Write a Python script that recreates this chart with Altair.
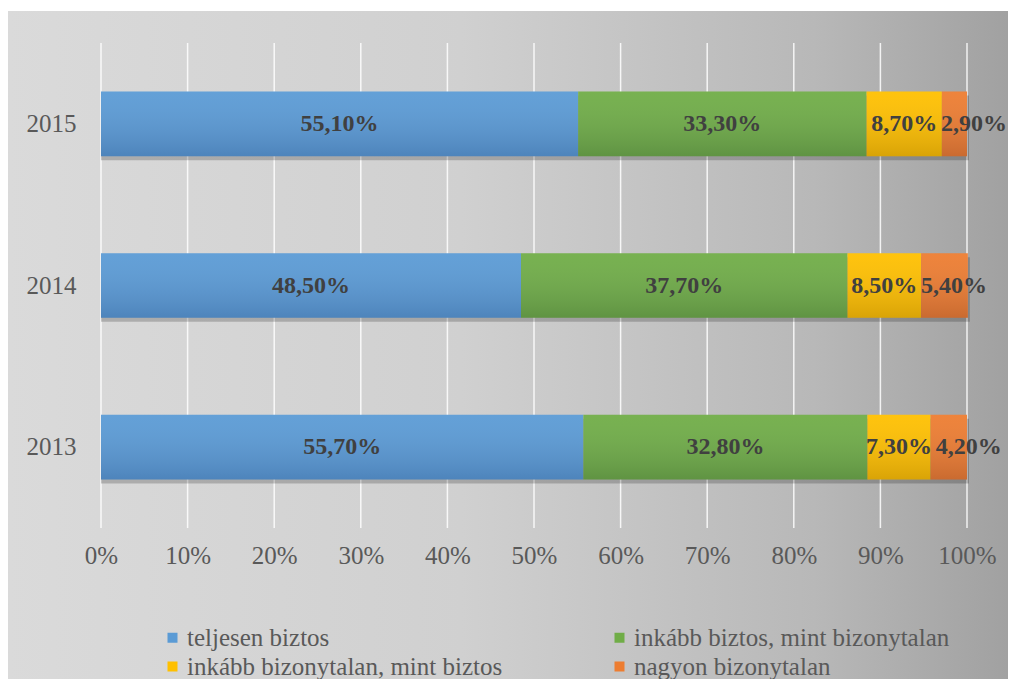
import altair as alt
import pandas as pd

years = ["2015", "2014", "2013"]
categories = ["teljesen biztos", "inkább biztos, mint bizonytalan",
              "inkább bizonytalan, mint biztos", "nagyon bizonytalan"]
values_2015 = [55.1, 33.3, 8.7, 2.9]
values_2014 = [48.5, 37.7, 8.5, 5.4]
values_2013 = [55.7, 32.8, 7.3, 4.2]
colors = ["#5b9bd5", "#70ad47", "#ffc000", "#ed7d31"]
grid_ticks = list(range(0, 101, 10))

W, H = 866, 485
FONT = "Liberation Serif"
LABEL_SPAN = 8.05  # minimum distance between label centres, in % units (avoids overlap)

rows = []
for y, vals in zip(years, [values_2015, values_2014, values_2013]):
    start = 0.0
    prev_pos = -100.0
    for i, (c, v) in enumerate(zip(categories, vals)):
        mid = start + v / 2
        pos = max(mid, prev_pos + LABEL_SPAN)
        rows.append({"year": y, "cat": c, "order": i, "value": v,
                     "start": start, "end": start + v, "pos": pos,
                     "label": f"{v:.2f}".replace(".", ",") + "%"})
        prev_pos = pos
        start += v
df = pd.DataFrame(rows)
totals = df.groupby("year", as_index=False)["end"].max()
grid_df = pd.DataFrame({"g": grid_ticks})

xscale = alt.Scale(domain=[0, 100], nice=False)
yscale = alt.Scale(domain=years, paddingInner=0.6, paddingOuter=0.3)

xaxis = alt.Axis(values=grid_ticks, labelExpr="datum.value + '%'",
                 labelFont=FONT, labelFontSize=25, labelColor="#595959",
                 ticks=False, domain=False, labelPadding=15, labelFlush=False,
                 labelOverlap=False, grid=False, zindex=1, title=None)
yaxis = alt.Axis(labelFont=FONT, labelFontSize=25, labelColor="#595959",
                 ticks=False, domain=False, labelPadding=25, grid=False, zindex=1,
                 title=None)

def X(field):
    return alt.X(field, scale=xscale, axis=xaxis, title=None)

def Y():
    return alt.Y("year:N", sort=years, scale=yscale, axis=yaxis, title=None)

bg = alt.Chart(pd.DataFrame({"a": [0]})).mark_rect(
    color={"gradient": "linear", "x1": 0, "y1": 0, "x2": 1, "y2": 0,
           "stops": [{"offset": 0, "color": "#dadada"},
                     {"offset": 0.45, "color": "#d0d0d0"},
                     {"offset": 0.8, "color": "#b8b8b8"},
                     {"offset": 1, "color": "#a0a0a0"}]}
).encode(x=alt.value(-93), x2=alt.value(915), y=alt.value(-32), y2=alt.value(644))

grid = alt.Chart(grid_df).mark_rule(color="#ffffff", strokeWidth=1.5, opacity=0.85).encode(
    x=X("g:Q"), y=alt.value(0), y2=alt.value(H))

shadow = alt.Chart(totals).mark_bar(color="#000000", opacity=0.2, yOffset=4, xOffset=2).encode(
    x=X("end:Q"), x2=alt.datum(0), y=Y())

bars = alt.Chart(df).mark_bar().encode(
    x=X("start:Q"),
    x2="end:Q",
    y=Y(),
    color=alt.Color("cat:N", sort=categories,
                    scale=alt.Scale(domain=categories, range=colors),
                    legend=alt.Legend(title=None, orient="none", legendX=59, legendY=582,
                                      columns=2, columnPadding=104, rowPadding=3,
                                      symbolType="square", symbolSize=100,
                                      symbolStrokeWidth=0, symbolOffset=0,
                                      labelFont=FONT, labelFontSize=25,
                                      labelColor="#595959", labelOffset=2,
                                      labelLimit=600, direction="horizontal")),
)

shade = alt.Chart(df).mark_bar(
    color={"gradient": "linear", "x1": 0, "y1": 0, "x2": 0, "y2": 1,
           "stops": [{"offset": 0, "color": "rgba(255,255,255,0.05)"},
                     {"offset": 1, "color": "rgba(0,0,40,0.15)"}]}
).encode(x=X("start:Q"), x2="end:Q", y=Y())

text = alt.Chart(df).mark_text(font=FONT, fontSize=24, fontWeight="bold",
                               color="#404040", baseline="middle", align="center").encode(
    x=X("pos:Q"), y=Y(), text="label:N")

chart = alt.layer(bg, grid, shadow, bars, shade, text).properties(
    width=W, height=H,
    autosize=alt.AutoSizeParams(type="none"),
    padding={"left": 93, "top": 35, "right": 41, "bottom": 151},
).configure_view(strokeWidth=0).configure(background="#ffffff")

chart.save("out.html", embed_options={"renderer": "svg", "actions": False})
